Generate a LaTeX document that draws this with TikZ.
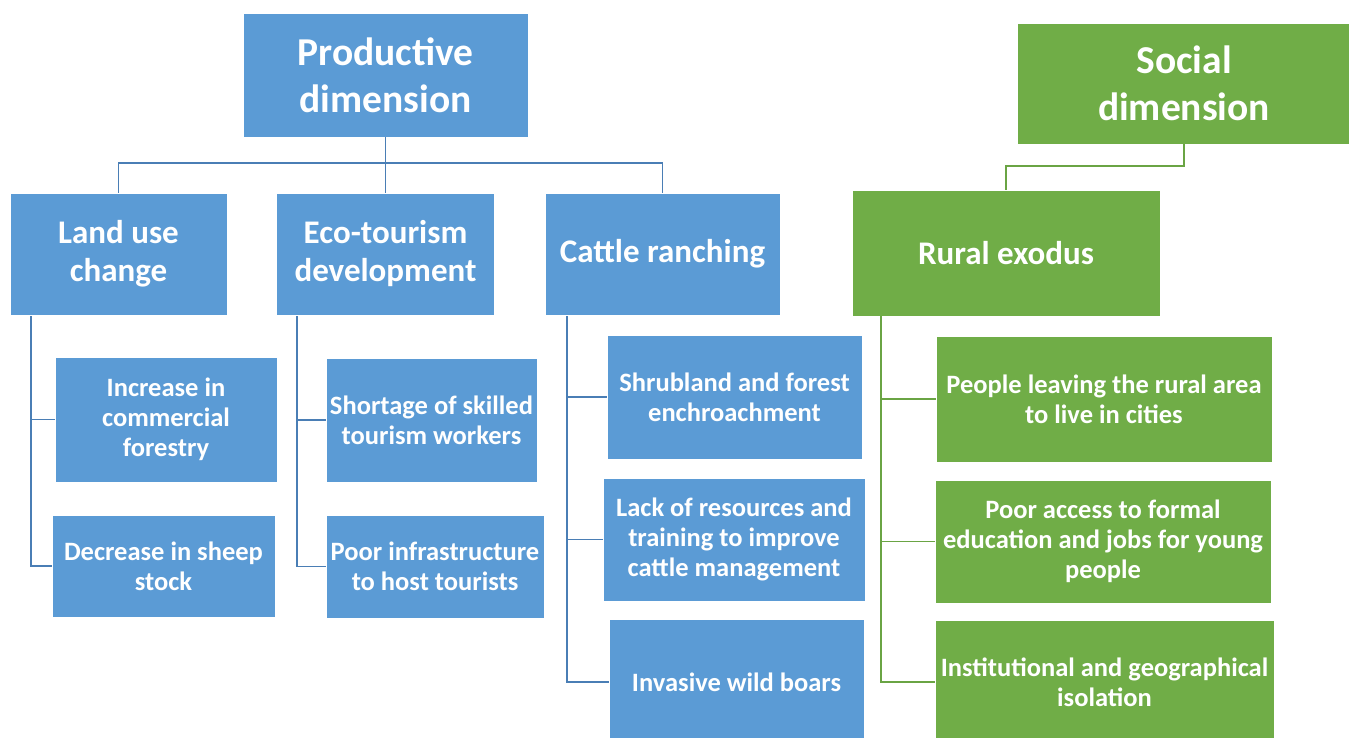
\documentclass[tikz,border=0pt]{standalone}
\usepackage{fontspec}
\setmainfont{Carlito}
\definecolor{pblue}{HTML}{5B9BD5}
\definecolor{sgreen}{HTML}{70AD47}
\definecolor{blueline}{HTML}{4A7EB5}
\definecolor{greenline}{HTML}{6AA444}
\tikzset{
  boxbase/.style={draw=white, line width=0.8pt, text=white, font=\bfseries, align=center, inner sep=0pt},
  pbox/.style={boxbase, fill=pblue},
  gbox/.style={boxbase, fill=sgreen},
  dimtext/.style={font=\bfseries\fontsize{39.5}{47}\selectfont},
  midtext/.style={font=\bfseries\fontsize{33}{38}\selectfont},
  subtext/.style={font=\bfseries\fontsize{26.5}{30}\selectfont},
  bline/.style={draw=blueline, line width=1.8pt},
  gline/.style={draw=greenline, line width=1.8pt}
}
\begin{document}
\begin{tikzpicture}[x=1pt, y=-1pt]
\useasboundingbox (0,0) rectangle (1349,738);
\clip (0,0) rectangle (1349,738);
\fill[white] (0,0) rectangle (1349,738);
% productive dimension
\node[pbox, dimtext, minimum width=285, minimum height=124] (prod) at (385.5,75) {Productive\\dimension};
\node[pbox, midtext, minimum width=217, minimum height=122] (land) at (118.5,254) {Land use\\change};
\node[pbox, midtext, minimum width=218, minimum height=122] (eco) at (385.5,254) {Eco-tourism\\development};
\node[pbox, midtext, minimum width=235, minimum height=122] (cattle) at (662.5,254) {Cattle ranching};
% social dimension
\node[gbox, dimtext, minimum width=334, minimum height=121] (social) at (1184,83.5) {Social\\dimension};
\node[gbox, midtext, minimum width=308, minimum height=126] (rural) at (1006,253) {Rural exodus};
% land use children
\node[pbox, subtext, minimum width=222, minimum height=125] (inc) at (166,419.5) {Increase in\\commercial\\forestry};
\node[pbox, subtext, minimum width=223, minimum height=102] (dec) at (163.5,566) {Decrease in sheep\\stock};
% eco-tourism children
\node[pbox, subtext, minimum width=211, minimum height=124] (short) at (431.5,420) {Shortage of skilled\\tourism workers};
\node[pbox, subtext, minimum width=218, minimum height=103] (infra) at (435,566.5) {Poor infrastructure\\to host tourists};
% cattle children
\node[pbox, subtext, minimum width=255, minimum height=124] (shrub) at (734.5,397) {Shrubland and forest\\enchroachment};
\node[pbox, subtext, minimum width=262, minimum height=123] (lack) at (734,539.5) {Lack of resources and\\training to improve\\cattle management};
\node[pbox, subtext, minimum width=255, minimum height=126] (boar) at (736.5,682) {Invasive wild boars};
% rural children
\node[gbox, subtext, minimum width=336, minimum height=126] (leave) at (1104,399) {People leaving the rural area\\to live in cities};
\node[gbox, subtext, minimum width=336, minimum height=123] (access) at (1103,541.5) {Poor access to formal\\education and jobs for young\\people};
\node[gbox, subtext, minimum width=339, minimum height=124] (iso) at (1104.5,682) {Institutional and geographical\\isolation};
% connectors: productive
\draw[bline] (prod.south) -- ++(0,26) -| (land.north);
\draw[bline] (prod.south) -- (eco.north);
\draw[bline] (prod.south) -- ++(0,26) -| (cattle.north);
% connectors: social
\draw[gline] (social.south) -- ++(0,22) -| (rural.north);
% land use
\coordinate (lt) at (31,316);
\draw[bline] (lt) |- (inc.west);
\draw[bline] (lt) |- (dec.west);
% eco
\coordinate (et) at (297,316);
\draw[bline] (et) |- (short.west);
\draw[bline] (et) |- (infra.west);
% cattle
\coordinate (ct) at (567,316);
\draw[bline] (ct) |- (shrub.west);
\draw[bline] (ct) |- (lack.west);
\draw[bline] (ct) |- (boar.west);
% rural
\coordinate (rt) at (881,316);
\draw[gline] (rt) |- (leave.west);
\draw[gline] (rt) |- (access.west);
\draw[gline] (rt) |- (iso.west);
\end{tikzpicture}
\end{document}
